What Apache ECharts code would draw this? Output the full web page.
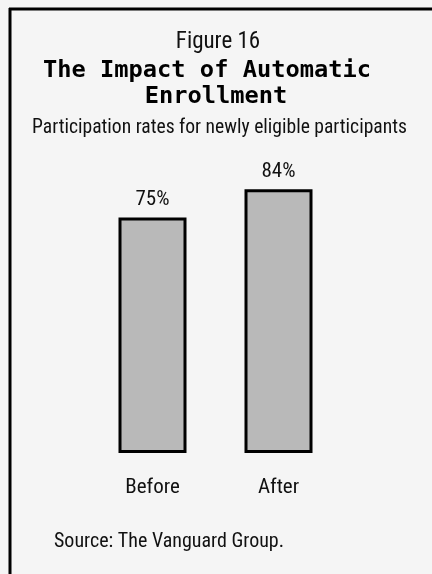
<!DOCTYPE html>
<html>
<head>
<meta charset="utf-8">
<script src="https://cdn.jsdelivr.net/npm/echarts@6/dist/echarts.min.js"></script>
<style>
  html, body { margin: 0; padding: 0; background: #f5f5f5; }
  #chart { width: 432px; height: 574px; }
</style>
</head>
<body>
<div id="chart"></div>
<script>
// Participation rates before and after automatic enrollment
const categories = ['Before', 'After'];
const rates = [75, 84];
const valueLabels = ['75%', '84%'];

const narrow = "'Liberation Sans Narrow', 'Arial Narrow', 'Roboto Condensed', sans-serif";
const mono = "'DejaVu Sans Mono', monospace";

const chart = echarts.init(document.getElementById('chart'));
chart.setOption({
  backgroundColor: '#f5f5f5',
  animation: false,
  graphic: [
    // frame: top and left rules
    { type: 'line', shape: { x1: 9, y1: 9, x2: 432, y2: 9 }, style: { stroke: '#000', lineWidth: 3 } },
    { type: 'line', shape: { x1: 10, y1: 8, x2: 10, y2: 574 }, style: { stroke: '#000', lineWidth: 3 } },
    { type: 'text', x: 218, y: 42, style: { text: 'Figure 16', font: '23px ' + narrow, fill: '#111', textAlign: 'center', textVerticalAlign: 'middle' } },
    { type: 'text', x: 207, y: 71, style: { text: 'The Impact of Automatic', font: 'bold 23.7px ' + mono, fill: '#000', textAlign: 'center', textVerticalAlign: 'middle' } },
    { type: 'text', x: 216, y: 97, style: { text: 'Enrollment', font: 'bold 23.7px ' + mono, fill: '#000', textAlign: 'center', textVerticalAlign: 'middle' } },
    { type: 'text', x: 219.5, y: 128, style: { text: 'Participation rates for newly eligible participants', font: '19.6px ' + narrow, fill: '#111', textAlign: 'center', textVerticalAlign: 'middle' } },
    { type: 'text', x: 54, y: 542, style: { text: 'Source: The Vanguard Group.', font: '20px ' + narrow, fill: '#111', textAlign: 'left', textVerticalAlign: 'middle' } }
  ],
  grid: { left: 89.5, right: 90.5, top: 139, bottom: 121 },
  xAxis: {
    type: 'category',
    data: categories,
    axisLine: { show: false },
    axisTick: { show: false },
    axisLabel: { color: '#111', fontSize: 21, fontFamily: narrow, margin: 24 }
  },
  yAxis: {
    type: 'value',
    min: 0,
    max: 100,
    show: false,
    splitLine: { show: false }
  },
  series: [{
    type: 'bar',
    data: rates,
    barWidth: 68,
    itemStyle: { color: '#b9b9b9', borderColor: '#000', borderWidth: 3 },
    label: {
      show: true,
      position: 'top',
      distance: 7,
      color: '#111',
      fontSize: 21,
      fontFamily: narrow,
      formatter: (p) => valueLabels[p.dataIndex]
    }
  }]
});
</script>
</body>
</html>
